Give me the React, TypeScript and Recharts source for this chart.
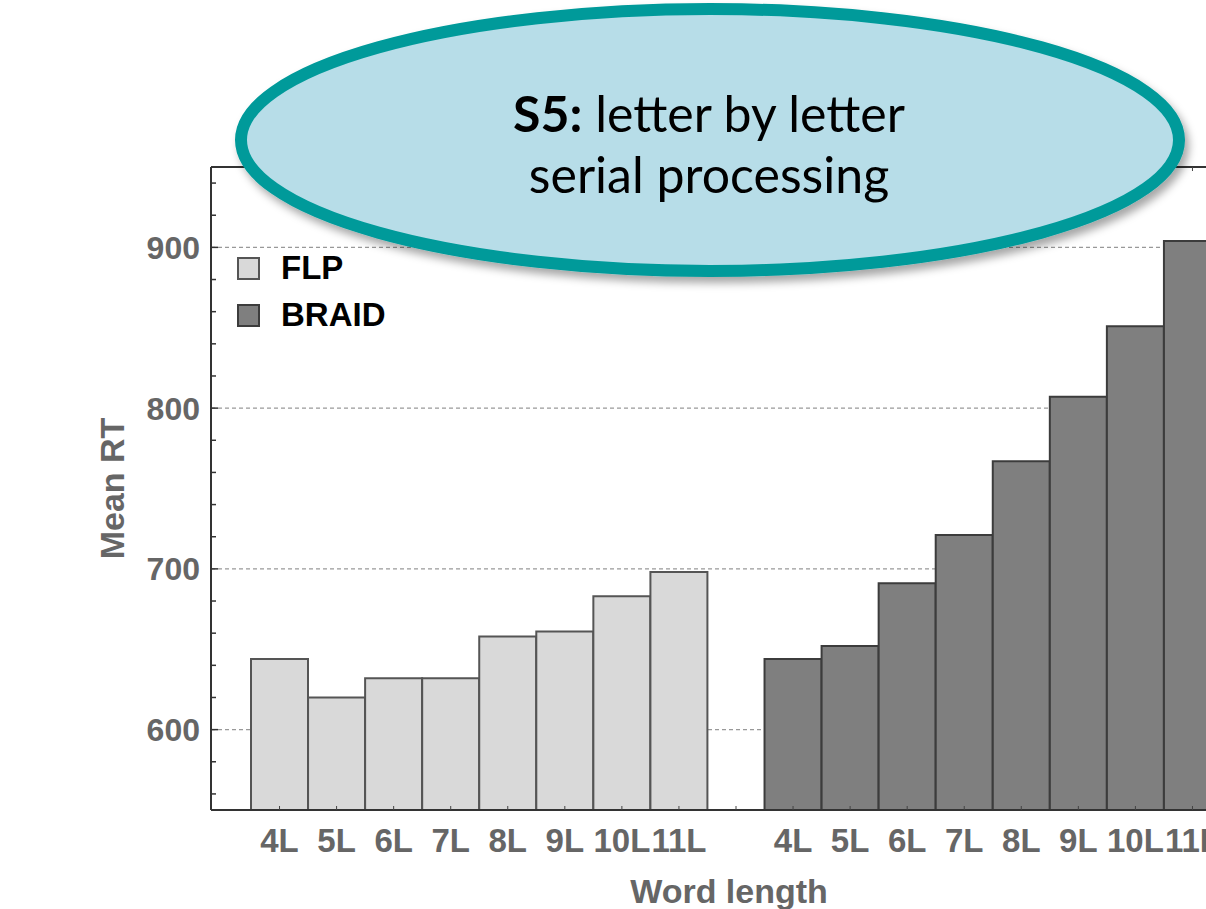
import { BarChart, Bar, Cell, XAxis, YAxis, CartesianGrid, Legend, Label } from "recharts";

const wordLengths = ["4L", "5L", "6L", "7L", "8L", "9L", "10L", "11L"];
const flpRT = [644, 620, 632, 632, 658, 661, 683, 698];
const braidRT = [644, 652, 691, 721, 767, 807, 851, 904];
const seriesNames = ["FLP", "BRAID"];
const yDomain = [550, 950];
const yTicks = [560, 580, 600, 620, 640, 660, 680, 700, 720, 740, 760, 780, 800, 820, 840, 860, 880, 900, 920, 940];
const yLabels = [600, 700, 800, 900];

const fills: Record<string, string> = { FLP: "#d9d9d9", BRAID: "#7f7f7f" };
const strokes: Record<string, string> = { FLP: "#555", BRAID: "#3c3c3c" };

// one row per bar, with an empty slot between the two groups
const rows = [
  ...wordLengths.map((w, i) => ({ cat: w, rt: flpRT[i], group: "FLP" })),
  { cat: "", rt: null, group: "" },
  ...wordLengths.map((w, i) => ({ cat: w, rt: braidRT[i], group: "BRAID" })),
];

const axisFont = "'Liberation Sans', Arial, sans-serif";
const axisGray = "#666";
const axisDark = "#333";

function BottomTick({ x, y, payload }: any) {
  return (
    <g>
      <line x1={x} y1={y} x2={x} y2={y - 4} stroke="#444" strokeWidth={1} />
      <text x={x} y={y + 42} textAnchor="middle" fontFamily={axisFont} fontWeight="bold" fontSize={33} fill={axisGray}>
        {payload.value}
      </text>
    </g>
  );
}

function TopTick({ x, y }: any) {
  return <line x1={x} y1={y} x2={x} y2={y + 4} stroke="#444" strokeWidth={1} />;
}

function LeftTick({ x, y, payload }: any) {
  const major = yLabels.includes(payload.value);
  return (
    <g>
      <line x1={x} y1={y} x2={x + (major ? 7 : 5)} y2={y} stroke={axisDark} strokeWidth={1.5} />
      {major && (
        <text x={x - 11} y={y} dy="0.36em" textAnchor="end" fontFamily={axisFont} fontWeight="bold" fontSize={32} fill={axisGray}>
          {payload.value}
        </text>
      )}
    </g>
  );
}

function LegendBox() {
  return (
    <div style={{ fontFamily: axisFont }}>
      {seriesNames.map((name) => (
        <div key={name} style={{ display: "flex", alignItems: "center", height: 24, marginBottom: 23 }}>
          <div style={{ width: 19, height: 19, background: fills[name], border: `2px solid ${strokes[name]}` }} />
          <span style={{ marginLeft: 21, fontSize: 33, fontWeight: "bold", color: "#000", lineHeight: "24px" }}>{name}</span>
        </div>
      ))}
    </div>
  );
}

// dashed grid only at the labelled values
function gridRows({ yAxis, offset }: any) {
  if (yAxis && typeof yAxis.scale === "function") return yLabels.map((v) => yAxis.scale(v));
  return yLabels.map((v) => offset.top + (offset.height * (yDomain[1] - v)) / (yDomain[1] - yDomain[0]));
}

export default function App() {
  return (
    <div style={{ position: "absolute", left: 0, top: 0, width: 1206, height: 909, overflow: "hidden", background: "#fff" }}>
      <BarChart width={1271} height={909} data={rows} margin={{ top: 166, right: 10, bottom: 0, left: 0 }} barCategoryGap={0}>
        <CartesianGrid vertical={false} stroke="#999" strokeWidth={1.2} strokeDasharray="4 3" horizontalCoordinatesGenerator={gridRows} />
        <XAxis
          dataKey="cat"
          height={99}
          padding={{ left: 40, right: 40 }}
          interval={0}
          tickSize={0}
          tickMargin={0}
          tick={<BottomTick />}
          stroke={axisDark}
          axisLine={{ stroke: axisDark, strokeWidth: 2 }}
        >
          <Label
            value="Word length"
            position="insideBottom"
            offset={6}
            dx={-7}
            style={{ fontFamily: axisFont, fontWeight: "bold", fontSize: 34, fill: axisGray }}
          />
        </XAxis>
        <XAxis
          xAxisId="top"
          orientation="top"
          dataKey="cat"
          height={1}
          padding={{ left: 40, right: 40 }}
          interval={0}
          tickSize={0}
          tickMargin={0}
          tick={<TopTick />}
          stroke={axisDark}
          axisLine={{ stroke: axisDark, strokeWidth: 2 }}
        />
        <YAxis
          type="number"
          width={211}
          domain={yDomain}
          ticks={yTicks}
          interval={0}
          allowDataOverflow
          tickSize={0}
          tickMargin={0}
          tick={<LeftTick />}
          stroke={axisDark}
          axisLine={{ stroke: axisDark, strokeWidth: 2 }}
        >
          <Label
            value="Mean RT"
            angle={-90}
            position="insideLeft"
            offset={112}
            style={{ fontFamily: axisFont, fontWeight: "bold", fontSize: 34, fill: axisGray, textAnchor: "middle" }}
          />
        </YAxis>
        <Legend
          layout="vertical"
          align="center"
          verticalAlign="middle"
          content={<LegendBox />}
          wrapperStyle={{ left: 237, top: 256, width: 200, height: 100 }}
        />
        <Bar dataKey="rt" isAnimationActive={false} strokeWidth={2}>
          {rows.map((r, i) => (
            <Cell key={i} fill={fills[r.group] || "none"} stroke={strokes[r.group] || "none"} />
          ))}
        </Bar>
      </BarChart>
      <svg width={1206} height={909} style={{ position: "absolute", left: 0, top: 0, pointerEvents: "none" }}>
        <defs>
          <filter id="calloutShadow" x="-10%" y="-20%" width="120%" height="150%">
            <feDropShadow dx={4} dy={6} stdDeviation={4} floodColor="#000" floodOpacity={0.35} />
          </filter>
        </defs>
        <ellipse cx={710} cy={140} rx={469} ry={131} fill="#b7dde8" stroke="#009a9a" strokeWidth={12} filter="url(#calloutShadow)" />
        <text x={709} textAnchor="middle" fontFamily="Lato, 'Open Sans', sans-serif" fontSize={50} fill="#000">
          <tspan x={709} y={132}>
            <tspan fontWeight="bold">S5:</tspan> letter by letter
          </tspan>
          <tspan x={709} y={193}>serial processing</tspan>
        </text>
      </svg>
    </div>
  );
}
